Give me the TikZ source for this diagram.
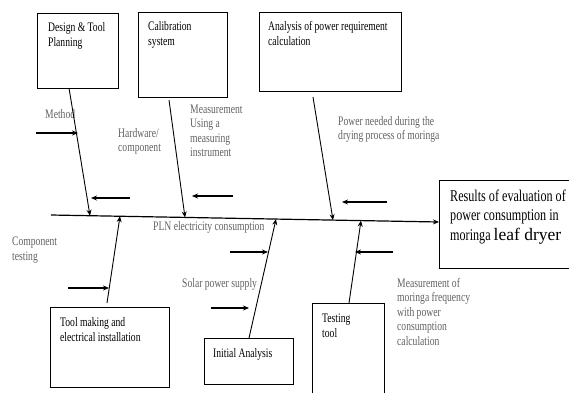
\documentclass[tikz,border=0pt]{standalone}
\usepackage{fontspec}
\setmainfont{Liberation Serif}[FakeStretch=0.74]
\newfontfamily\widefont{Liberation Serif}
\usetikzlibrary{arrows.meta}
\tikzset{
  box/.style={draw, line width=0.9pt, anchor=north west, inner sep=0pt},
  btxt/.style={anchor=base west, inner sep=0pt, align=left, font=\fontsize{13}{15}\selectfont},
  gtxt/.style={anchor=base west, inner sep=0pt, align=left, text=black!62, font=\fontsize{13}{14.5}\selectfont},
  bone/.style={line width=0.9pt, -{Stealth[length=6pt,width=5pt]}},
  cue/.style={line width=1.1pt, -{Stealth[length=6pt,width=5pt]}}
}
\begin{document}
\begin{tikzpicture}[x=1pt,y=-1pt]
\useasboundingbox (0,0) rectangle (569,392);
% boxes
\node[box, minimum width=81pt, minimum height=75pt] (b1) at (37,13) {};
\node[box, minimum width=89pt, minimum height=85pt] (b2) at (138,12) {};
\node[box, minimum width=142pt, minimum height=79pt] (b3) at (259,12) {};
\node[box, minimum width=131pt, minimum height=88pt] (res) at (439,180) {};
\node[box, minimum width=119pt, minimum height=80pt] (b4) at (50,307) {};
\node[box, minimum width=89pt, minimum height=46pt] (b5) at (204,338) {};
\node[box, minimum width=72pt, minimum height=95pt] (b6) at (312,303) {};
% box texts (anchor = baseline of last line)
\node[btxt] (t1) at (48,46.5) {Design \& Tool\\Planning};
\node[btxt] (t2) at (148,45.5) {Calibration\\system};
\node[btxt] (t3) at (268,45) {Analysis of power requirement\\calculation};
\node[btxt, font=\fontsize{16.4}{19.5}\selectfont] (t4) at (450,240) {Results of evaluation of\\power consumption in\\moringa {\widefont\fontsize{17.5}{19.5}\selectfont leaf dryer}};
\node[btxt] (t5) at (60,341) {Tool making and\\electrical installation};
\node[btxt] (t6) at (213,357.5) {Initial Analysis};
\node[btxt] (t7) at (322,337) {Testing\\tool};
% grey labels
\node[gtxt] (g1) at (45,118) {Method};
\node[gtxt] (g2) at (118,151.5) {Hardware/\\component};
\node[gtxt] (g3) at (190,156.5) {Measurement\\Using a\\measuring\\instrument};
\node[gtxt] (g4) at (338,139.5) {Power needed during the\\drying process of moringa};
\node[gtxt] (g5) at (153,230) {PLN electricity consumption};
\node[gtxt] (g6) at (12,260) {Component\\testing};
\node[gtxt] (g7) at (182,287) {Solar power supply};
\node[gtxt] (g8) at (397,345) {Measurement of\\moringa frequency\\with power\\consumption\\calculation};
% spine
\coordinate (sp0) at (51,215);
\draw[bone, line width=1.2pt] (sp0) -- (res.west |- 0,222);
% bone coordinates
\coordinate (s1) at (90,215.7);
\coordinate (s2) at (185,217.4);
\coordinate (s3) at (333,220.1);
\coordinate (s4) at (120,216.2);
\coordinate (s5) at (276,219.1);
\coordinate (s6) at (361,220.6);
\coordinate (o1) at (69,88);
\coordinate (o2) at (169,100);
\coordinate (o3) at (313,97);
\coordinate (o4) at (107,303);
\coordinate (o5) at (249,338);
\coordinate (o6) at (349,303);
\draw[bone] (o1) -- (s1);
\draw[bone] (o2) -- (s2);
\draw[bone] (o3) -- (s3);
\draw[bone] (o4) -- (s4);
\draw[bone] (o5) -- (s5);
\draw[bone] (o6) -- (s6);
% cue arrows
\coordinate (a1s) at (36,133);  \coordinate (a1e) at (78,133);
\coordinate (a2s) at (130,198); \coordinate (a2e) at (91,198);
\coordinate (a3s) at (233,196); \coordinate (a3e) at (192,196);
\coordinate (a4s) at (387,202); \coordinate (a4e) at (342,202);
\coordinate (a5s) at (68,288);  \coordinate (a5e) at (109,288);
\coordinate (a6s) at (230,252); \coordinate (a6e) at (268,252);
\coordinate (a7s) at (211,308); \coordinate (a7e) at (249,308);
\coordinate (a8s) at (393,252); \coordinate (a8e) at (355,252);
\foreach \i in {1,...,8} \draw[cue] (a\i s) -- (a\i e);
\end{tikzpicture}
\end{document}
